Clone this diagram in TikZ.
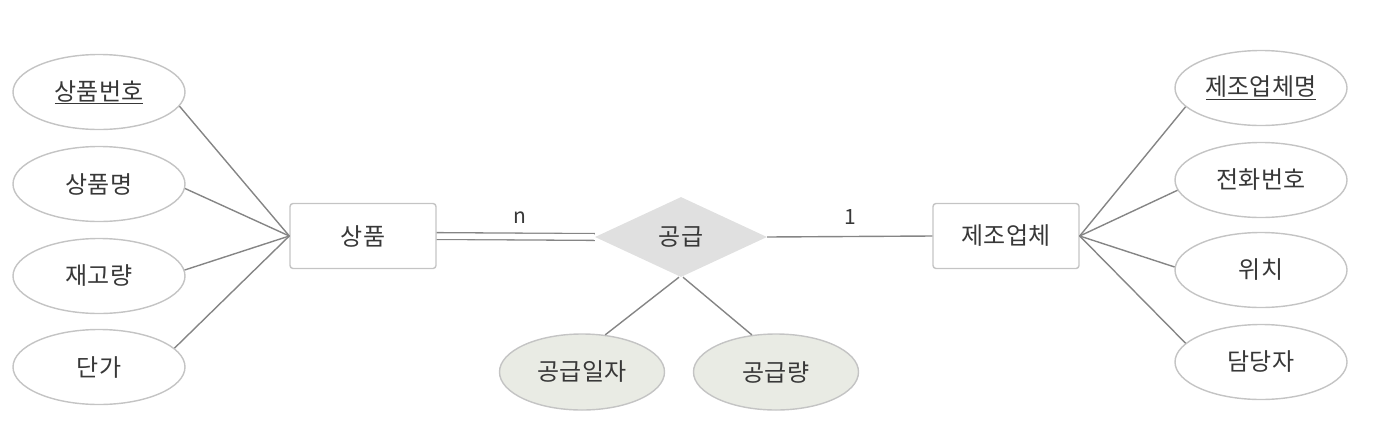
\documentclass[tikz,border=0pt]{standalone}
\usepackage{fontspec}
\setmainfont{Noto Sans CJK KR}
\usetikzlibrary{shapes.geometric}
\definecolor{txt}{HTML}{383838}
\definecolor{ln}{HTML}{858585}
\definecolor{bd}{HTML}{C4C4C4}
\definecolor{dfill}{HTML}{E0E0E0}
\definecolor{efill}{HTML}{E9EBE4}
\tikzset{
  attr/.style={ellipse, draw=bd, line width=1.4pt, fill=white, minimum width=172pt, minimum height=75pt, inner sep=0pt, text=txt, font=\fontsize{24}{28}\selectfont},
  relattr/.style={attr, fill=efill, minimum width=165pt, minimum height=76pt},
  entity/.style={rectangle, rounded corners=3pt, draw=bd, line width=1.4pt, minimum width=146pt, minimum height=65pt, inner sep=0pt, text=txt, font=\fontsize{24}{28}\selectfont},
  rel/.style={diamond, fill=dfill, minimum width=172pt, minimum height=80pt, inner sep=0pt, text=txt, font=\fontsize{24}{28}\selectfont},
  conn/.style={draw=ln, line width=1.4pt},
  card/.style={text=txt, font=\fontsize{21}{24}\selectfont, inner sep=0pt}
}
\begin{document}
\begin{tikzpicture}[x=1pt,y=-1pt]
\useasboundingbox (0,0) rectangle (1386,429);
% left entity
\node[entity] (p) at (363,236) {상품};
\node[attr] (a1) at (99,92) {\underline{상품번호}};
\node[attr] (a2) at (99,184) {상품명};
\node[attr] (a3) at (99,276) {재고량};
\node[attr] (a4) at (99,367) {단가};
% relationship
\node[rel] (d) at (681,237) {공급};
\node[relattr] (r1) at (582,372) {공급일자};
\node[relattr] (r2) at (776,372) {공급량};
% right entity
\node[entity] (q) at (1006,236) {제조업체};
\node[attr] (b1) at (1261,88) {\underline{제조업체명}};
\node[attr] (b2) at (1261,180) {전화번호};
\node[attr] (b3) at (1261,270) {위치};
\node[attr] (b4) at (1261,362) {담당자};
% connectors
\draw[conn] (a1.-10) -- (p.west);
\draw[conn] (a2.-3) -- (p.west);
\draw[conn] (a3.4) -- (p.west);
\draw[conn] (a4.14) -- (p.west);
\draw[conn] (b1.194) -- (q.east);
\draw[conn] (b2.187) -- (q.east);
\draw[conn] (b3.178) -- (q.east);
\draw[conn] (b4.166) -- (q.east);
\draw[draw=ln, line width=1.3pt, double=white, double distance=5.5pt] (p.east) -- (d.west);
\draw[conn] (d.east) -- (q.west);
\draw[conn] ([xshift=-2pt]d.south) -- (r1.58);
\draw[conn] ([xshift=2pt]d.south) -- (r2.123);
\node[card] (n) at (520,218) {n};
\node[card] (one) at (850,217) {1};
\end{tikzpicture}
\end{document}
